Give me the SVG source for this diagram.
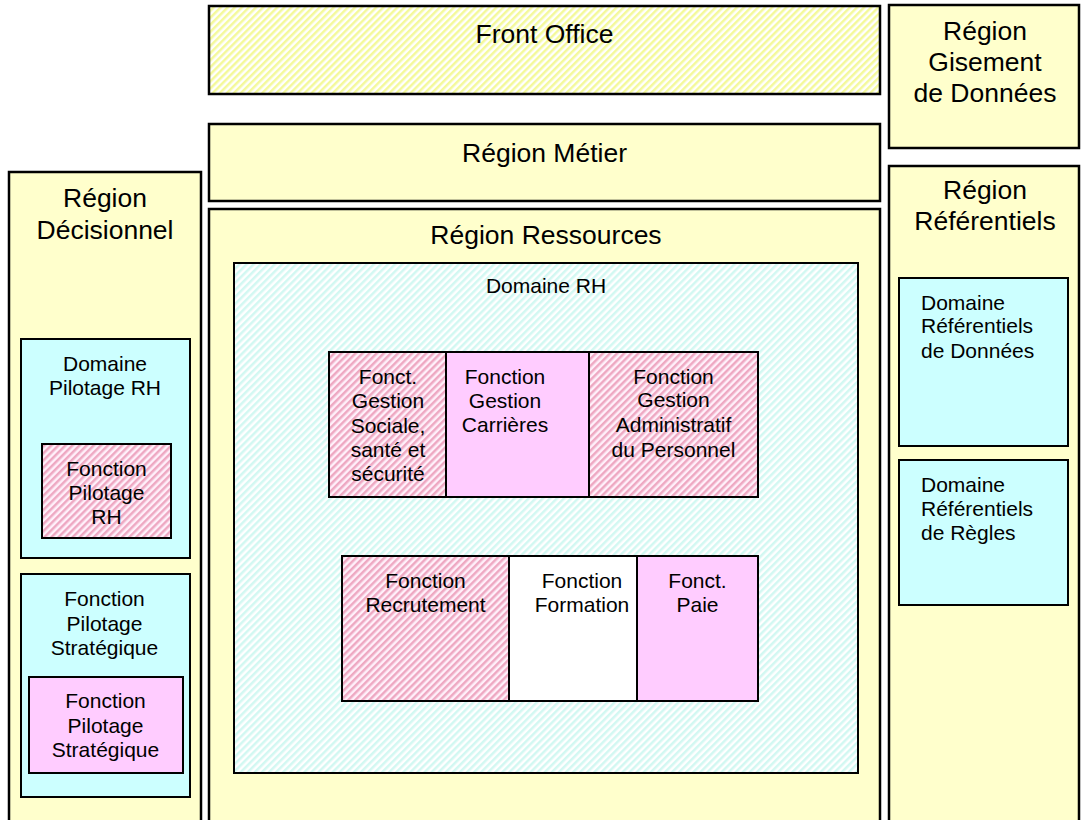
<svg xmlns="http://www.w3.org/2000/svg" width="1081" height="820" viewBox="0 0 1081 820">
<defs>
<pattern id="hY" width="5" height="10" patternUnits="userSpaceOnUse" patternTransform="rotate(45)">
<rect width="5" height="10" fill="#ffffff"/><rect width="2.5" height="10" fill="#f4f99a"/>
</pattern>
<pattern id="hC" width="5" height="10" patternUnits="userSpaceOnUse" patternTransform="rotate(45)">
<rect width="5" height="10" fill="#ffffff"/><rect width="2.5" height="10" fill="#d2f8f2"/>
</pattern>
<pattern id="hP" width="5" height="10" patternUnits="userSpaceOnUse" patternTransform="rotate(45)">
<rect width="5" height="10" fill="#fff0fa"/><rect width="2.5" height="10" fill="#eea8c2"/>
</pattern>
</defs>
<style>
rect.b{stroke:#000;stroke-width:2.5}
rect.s{stroke:#000;stroke-width:2}
.y{fill:#ffffcc}
.c{fill:#ccffff}
.p{fill:#ffccff}
.w{fill:#ffffff}
.hy{fill:url(#hY)}
.hc{fill:url(#hC)}
.hp{fill:url(#hP)}
text{font-family:"Liberation Sans",Arial,sans-serif;fill:#000}
.t{font-size:26.5px;text-anchor:middle}
.f{font-size:21px;text-anchor:middle}
.l{font-size:21px}
</style>
<g id="front-office">
<rect class="b hy" x="209" y="6" width="671" height="88"/>
<text class="t" x="544.5" y="43">Front Office</text>
</g>
<g id="region-gisement">
<rect class="b y" x="889" y="5" width="190" height="143"/>
<text class="t" x="985" y="40">Région</text>
<text class="t" x="985" y="71">Gisement</text>
<text class="t" x="985" y="102">de Données</text>
</g>
<g id="region-metier">
<rect class="b y" x="209" y="124" width="671" height="77"/>
<text class="t" x="544.5" y="162">Région Métier</text>
</g>
<g id="region-referentiels">
<rect class="b y" x="889" y="166" width="190" height="670"/>
<text class="t" x="985" y="199">Région</text>
<text class="t" x="985" y="230">Référentiels</text>
</g>
<g id="region-decisionnel">
<rect class="b y" x="9" y="172" width="192" height="660"/>
<text class="t" x="105" y="207">Région</text>
<text class="t" x="105" y="239">Décisionnel</text>
</g>
<g id="region-ressources">
<rect class="b y" x="209" y="209" width="671" height="630"/>
<text class="t" x="546" y="244">Région Ressources</text>
</g>
<g id="domaine-rh">
<rect class="s hc" x="234" y="263" width="624" height="510"/>
<text class="f" x="546" y="293">Domaine RH</text>
</g>
<g id="fonction-gestion-carrieres">
<rect class="s p" x="420" y="352" width="169" height="145"/>
<text class="f" x="505" y="384">Fonction</text>
<text class="f" x="505" y="408">Gestion</text>
<text class="f" x="505" y="432">Carrières</text>
</g>
<g id="fonct-gestion-sociale">
<rect class="s hp" x="329" y="352" width="117" height="145"/>
<text class="f" x="388" y="384">Fonct.</text>
<text class="f" x="388" y="408">Gestion</text>
<text class="f" x="388" y="432.5">Sociale,</text>
<text class="f" x="388" y="457">santé et</text>
<text class="f" x="388" y="481">sécurité</text>
</g>
<g id="fonction-gestion-administratif">
<rect class="s hp" x="589" y="352" width="169" height="145"/>
<text class="f" x="673.5" y="383.5">Fonction</text>
<text class="f" x="673.5" y="407">Gestion</text>
<text class="f" x="673.5" y="431.5">Administratif</text>
<text class="f" x="673.5" y="456.5">du Personnel</text>
</g>
<g id="fonction-recrutement">
<rect class="s hp" x="342" y="556" width="167" height="145"/>
<text class="f" x="425.5" y="588">Fonction</text>
<text class="f" x="425.5" y="612">Recrutement</text>
</g>
<g id="fonction-formation">
<rect class="s w" x="509" y="556" width="146" height="145"/>
<text class="f" x="582" y="588">Fonction</text>
<text class="f" x="582" y="612">Formation</text>
</g>
<g id="fonct-paie">
<rect class="s p" x="637" y="556" width="121" height="145"/>
<text class="f" x="697.5" y="588">Fonct.</text>
<text class="f" x="697.5" y="612">Paie</text>
</g>
<g id="domaine-pilotage-rh">
<rect class="s c" x="21" y="339" width="169" height="219"/>
<text class="f" x="105" y="371">Domaine</text>
<text class="f" x="105" y="395">Pilotage RH</text>
</g>
<g id="fonction-pilotage-rh">
<rect class="s hp" x="42" y="444" width="129" height="94"/>
<text class="f" x="106.5" y="476">Fonction</text>
<text class="f" x="106.5" y="500">Pilotage</text>
<text class="f" x="106.5" y="524">RH</text>
</g>
<g id="fonction-pilotage-strategique">
<rect class="s c" x="21" y="574" width="169" height="223"/>
<text class="f" x="104.5" y="606">Fonction</text>
<text class="f" x="104.5" y="630.5">Pilotage</text>
<text class="f" x="104.5" y="655">Stratégique</text>
</g>
<g id="fonction-pilotage-strategique-inner">
<rect class="s p" x="29" y="677" width="154" height="96"/>
<text class="f" x="105.5" y="708">Fonction</text>
<text class="f" x="105.5" y="732.5">Pilotage</text>
<text class="f" x="105.5" y="757">Stratégique</text>
</g>
<g id="domaine-referentiels-donnees">
<rect class="s c" x="899" y="278" width="169" height="168"/>
<text class="l" x="921" y="310">Domaine</text>
<text class="l" x="921" y="333">Référentiels</text>
<text class="l" x="921" y="357.5">de Données</text>
</g>
<g id="domaine-referentiels-regles">
<rect class="s c" x="899" y="460" width="169" height="145"/>
<text class="l" x="921" y="492">Domaine</text>
<text class="l" x="921" y="516">Référentiels</text>
<text class="l" x="921" y="540">de Règles</text>
</g>
<g id="connectors"></g>
</svg>
